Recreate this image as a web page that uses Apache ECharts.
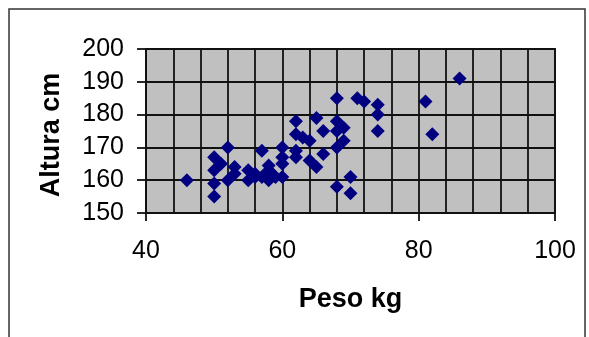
<!DOCTYPE html>
<html>
<head>
<meta charset="utf-8">
<script src="https://cdn.jsdelivr.net/npm/echarts@6/dist/echarts.min.js"></script>
<style>
  html, body { margin: 0; padding: 0; background: #fff; }
  #chart { width: 589px; height: 337px; }
</style>
</head>
<body>
<div id="chart"></div>
<script>
// Weight (kg) and height (cm) of each person
const peso = [
  46, 50, 50, 50, 50, 51, 52, 52, 53, 53,
  55, 55, 56, 56, 57, 57, 58, 58, 58, 58.5,
  59, 60, 60, 60, 60, 62, 62, 62, 62, 63,
  64, 64, 65, 65, 66, 66, 68, 68, 68, 68,
  68, 69, 69, 70, 70, 71, 72, 74, 74, 74,
  81, 82, 86
];
const altura = [
  160, 155, 159, 163, 167, 165, 170, 160, 162, 164,
  160, 163, 162, 161, 169, 161, 160, 163, 164.5, 162,
  161, 161, 165, 167, 170, 178, 174, 169, 167, 173,
  172, 166, 179, 164, 175, 168, 185, 178, 175, 170,
  158, 176, 172, 161, 156, 185, 184, 183, 180, 175,
  184, 174, 191
];

// Axis ranges and labelled steps
const xRange = [40, 100];
const xStep = 20;
const yRange = [150, 200];
const yStep = 10;

const points = peso.map((p, i) => [p, altura[i]]);

const chart = echarts.init(document.getElementById('chart'));
const fontFamily = 'Arial, "Liberation Sans", sans-serif';
const lineColor = '#111';

chart.setOption({
  animation: false,
  backgroundColor: '#fff',
  graphic: [{
    type: 'rect',
    shape: { x: 9, y: 9, width: 576, height: 340 },
    style: { fill: 'none', stroke: '#333', lineWidth: 1.5 },
    silent: true
  }],
  grid: {
    left: 146, top: 49, width: 409, height: 164,
    show: true,
    backgroundColor: '#c0c0c0',
    borderColor: lineColor,
    borderWidth: 1.8
  },
  xAxis: {
    type: 'value',
    min: xRange[0], max: xRange[1], interval: xStep,
    name: 'Peso kg',
    nameLocation: 'middle',
    nameGap: 73,
    nameTextStyle: { fontFamily, fontSize: 27, fontWeight: 'bold', color: '#000' },
    axisLine: { lineStyle: { color: lineColor, width: 1.8 } },
    axisTick: { show: true, length: 8, lineStyle: { color: lineColor, width: 1.8 } },
    axisLabel: { fontFamily, fontSize: 25, color: '#000', margin: 26 },
    splitLine: { show: true, lineStyle: { color: lineColor, width: 1.8 } },
    minorTick: { show: false, splitNumber: 5 },
    minorSplitLine: { show: true, lineStyle: { color: lineColor, width: 1.8 } }
  },
  yAxis: {
    type: 'value',
    min: yRange[0], max: yRange[1], interval: yStep,
    name: 'Altura cm',
    nameLocation: 'middle',
    nameGap: 81,
    nameTextStyle: { fontFamily, fontSize: 27, fontWeight: 'bold', color: '#000', padding: [0, 8, 0, 0] },
    axisLine: { show: true, lineStyle: { color: lineColor, width: 1.8 } },
    axisTick: { show: true, length: 9, lineStyle: { color: lineColor, width: 1.8 } },
    axisLabel: { fontFamily, fontSize: 25, color: '#000', margin: 22 },
    splitLine: { show: true, lineStyle: { color: lineColor, width: 1.8 } }
  },
  series: [{
    type: 'scatter',
    data: points,
    symbol: 'diamond',
    symbolSize: 14,
    itemStyle: { color: '#000080', opacity: 1 }
  }]
});
</script>
</body>
</html>
